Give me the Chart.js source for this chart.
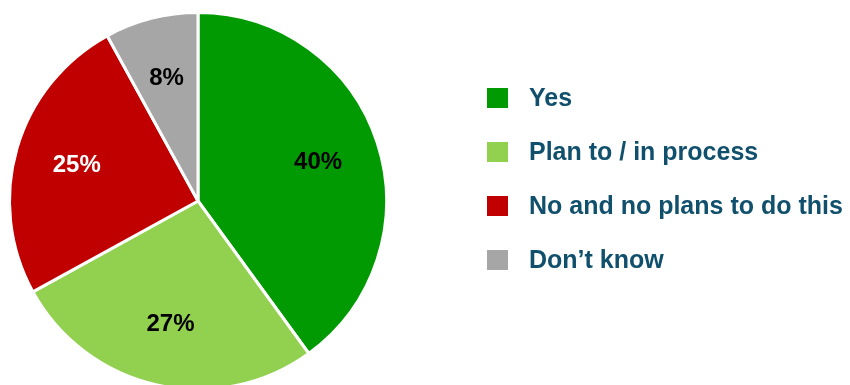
<!DOCTYPE html>
<html>
<head>
<meta charset="utf-8">
<script src="https://cdn.jsdelivr.net/npm/chart.js@4/dist/chart.umd.min.js"></script>
<style>
  html, body { margin: 0; padding: 0; background: #ffffff; overflow: hidden; }
  #wrap { position: relative; width: 850px; height: 400px; }
</style>
</head>
<body>
<div id="wrap"><canvas id="chart"></canvas></div>
<script>
// Survey answers and their shares (percent)
const categories = ['Yes', 'Plan to / in process', 'No and no plans to do this', 'Don\u2019t know'];
const shares = [40, 27, 25, 8];
const sliceColors = ['#029A02', '#92D050', '#C00000', '#A6A6A6'];
const valueLabelColors = ['#000000', '#000000', '#ffffff', '#000000'];

const FONT = '"Liberation Sans", Arial, sans-serif';

// Percent labels inside each slice
const sliceLabels = {
  id: 'sliceLabels',
  afterDatasetsDraw(chart) {
    const ctx = chart.ctx;
    const meta = chart.getDatasetMeta(0);
    ctx.save();
    ctx.font = 'bold 24px ' + FONT;
    ctx.textAlign = 'center';
    ctx.textBaseline = 'middle';
    meta.data.forEach((arc, i) => {
      const p = arc.getProps(['x', 'y', 'startAngle', 'endAngle', 'outerRadius'], true);
      const mid = (p.startAngle + p.endAngle) / 2;
      const r = p.outerRadius * 0.67;
      ctx.fillStyle = valueLabelColors[i];
      ctx.fillText(shares[i] + '%', p.x + Math.cos(mid) * r, p.y + Math.sin(mid) * r);
    });
    ctx.restore();
  }
};

// Legend listed to the right of the pie
const sideLegend = {
  id: 'sideLegend',
  afterDraw(chart) {
    const ctx = chart.ctx;
    const labels = chart.data.labels;
    const colors = chart.data.datasets[0].backgroundColor;
    ctx.save();
    ctx.font = 'bold 25px ' + FONT;
    ctx.textBaseline = 'middle';
    ctx.textAlign = 'left';
    labels.forEach((txt, i) => {
      const cy = 98 + i * 54;
      ctx.fillStyle = colors[i];
      ctx.fillRect(487, cy - 10, 21, 20);
      ctx.fillStyle = '#11506C';
      ctx.fillText(txt, 529, cy + 1);
    });
    ctx.restore();
  }
};

new Chart(document.getElementById('chart'), {
  type: 'pie',
  data: {
    labels: categories,
    datasets: [{
      data: shares,
      backgroundColor: sliceColors,
      borderColor: '#ffffff',
      borderWidth: 3,
      hoverOffset: 0,
      clip: false
    }]
  },
  options: {
    responsive: true,
    maintainAspectRatio: false,
    animation: false,
    layout: { padding: { left: 8, right: 462, top: 11, bottom: 9 } },
    plugins: {
      legend: { display: false },
      tooltip: { enabled: false }
    }
  },
  plugins: [sliceLabels, sideLegend]
});
</script>
</body>
</html>
